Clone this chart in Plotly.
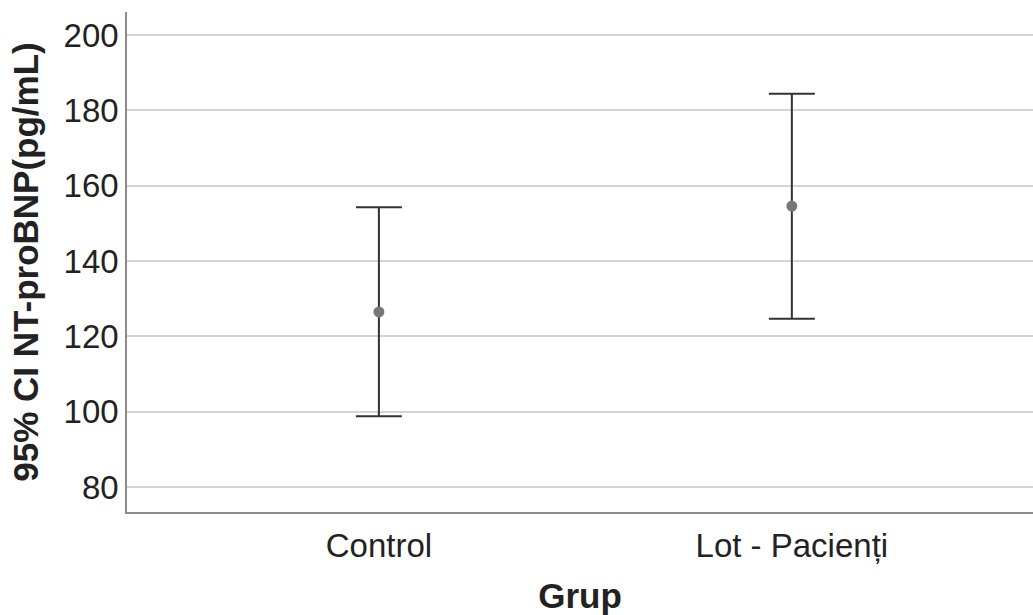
import plotly.graph_objects as go

groups = ["Control", "Lot - Pacienți"]
means = [126.5, 154.6]
ci_upper = [154.3, 184.4]
ci_lower = [98.8, 124.7]
y_ticks = [80, 100, 120, 140, 160, 180, 200]

x_pos = list(range(len(groups)))
err_plus = [u - m for u, m in zip(ci_upper, means)]
err_minus = [m - l for m, l in zip(means, ci_lower)]

fig = go.Figure()
fig.add_trace(go.Scatter(
    x=x_pos, y=means, mode="markers",
    marker=dict(color="#777777", size=11),
    error_y=dict(type="data", symmetric=False, array=err_plus, arrayminus=err_minus,
                 color="#333333", thickness=2, width=23),
    showlegend=False,
))

font_family = "Liberation Sans, Arial, sans-serif"
fig.update_layout(
    width=1033, height=615,
    margin=dict(l=127, r=0, t=12, b=103),
    paper_bgcolor="white", plot_bgcolor="white",
    font=dict(family=font_family, color="#222222"),
    xaxis=dict(
        range=[-0.61, 1.584],
        tickmode="array", tickvals=x_pos, ticktext=groups,
        tickfont=dict(size=33),
        ticklabelstandoff=4,
        showgrid=False, zeroline=False,
        showline=True, linecolor="#8c8c8c", linewidth=1.5,
        ticks="",
        title=dict(text="<b>Grup</b>", font=dict(size=35), standoff=22),
    ),
    yaxis=dict(
        range=[73.4, 206.1],
        tickmode="array", tickvals=y_ticks,
        tickfont=dict(size=33),
        showgrid=True, gridcolor="#d4d4d4", gridwidth=1.5,
        zeroline=False,
        showline=True, linecolor="#8c8c8c", linewidth=1.5,
        ticks="",
        title=dict(text="<b>95% CI NT-proBNP(pg/mL)</b>", font=dict(size=35), standoff=14),
    ),
)

fig.write_html("out.html")
